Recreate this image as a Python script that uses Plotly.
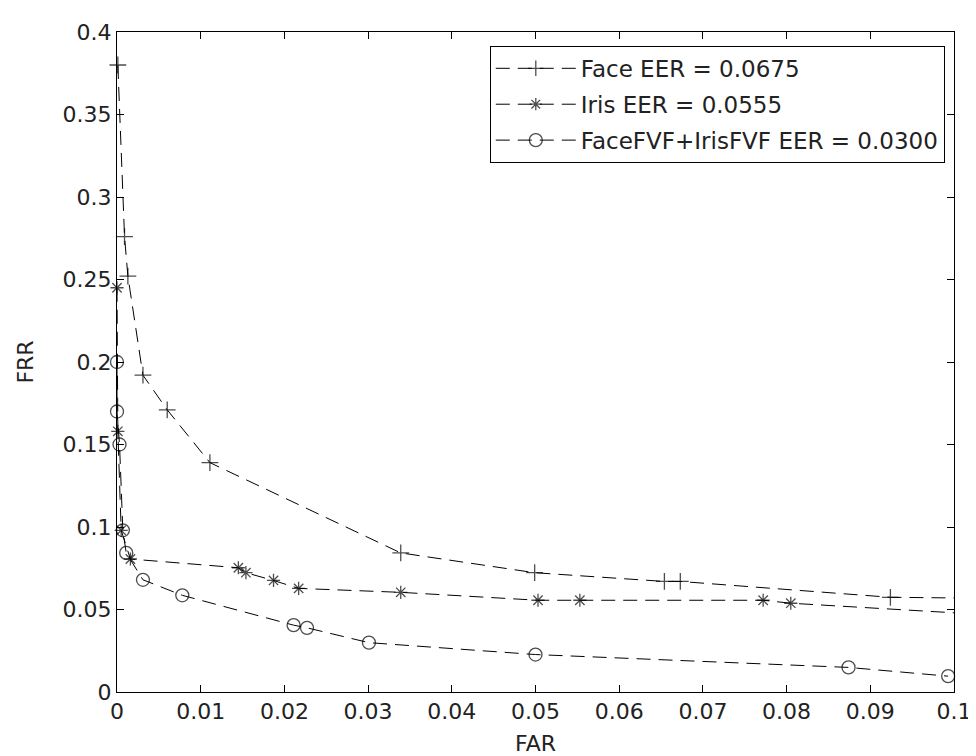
import plotly.graph_objects as go

# Face
face_far = [0.0001, 0.0009, 0.0013, 0.0031, 0.0060, 0.0111, 0.0339, 0.0499, 0.0654, 0.0673, 0.0924, 0.1000]
face_frr = [0.380, 0.276, 0.252, 0.192, 0.171, 0.139, 0.0843, 0.0723, 0.0670, 0.0670, 0.0574, 0.0570]
# Iris
iris_far = [0.0, 0.0001, 0.0005, 0.0016, 0.0145, 0.0154, 0.0187, 0.0217, 0.0339, 0.0503, 0.0553, 0.0772, 0.0805, 0.1000]
iris_frr = [0.245, 0.158, 0.098, 0.0806, 0.0753, 0.0723, 0.0676, 0.0628, 0.0604, 0.0556, 0.0556, 0.0556, 0.0538, 0.0480]
# Fused
fused_far = [0.0, 0.0, 0.0003, 0.0007, 0.0011, 0.0031, 0.0078, 0.0211, 0.0227, 0.0301, 0.0500, 0.0874, 0.0993]
fused_frr = [0.200, 0.170, 0.150, 0.098, 0.0843, 0.0680, 0.0586, 0.0405, 0.0389, 0.0299, 0.0227, 0.0149, 0.0096]

names = ["Face EER = 0.0675", "Iris EER = 0.0555", "FaceFVF+IrisFVF EER = 0.0300"]
x_ticks = [0, 0.01, 0.02, 0.03, 0.04, 0.05, 0.06, 0.07, 0.08, 0.09, 0.1]
x_tick_text = ["0", "0.01", "0.02", "0.03", "0.04", "0.05", "0.06", "0.07", "0.08", "0.09", "0.1"]
y_ticks = [0, 0.05, 0.1, 0.15, 0.2, 0.25, 0.3, 0.35, 0.4]
y_tick_text = ["0", "0.05", "0.1", "0.15", "0.2", "0.25", "0.3", "0.35", "0.4"]

FONT = "DejaVu Sans"
DASH = "14px,8px"
TXT = "#222"

fig = go.Figure()
series = [
    (face_far, face_frr, names[0], "cross-thin-open", 12, True),
    (iris_far, iris_frr, names[1], "asterisk-open", 11, True),
    (fused_far, fused_frr, names[2], "circle-open", 13, False),
]
for i, (xs, ys, nm, sym, sz, hide_last) in enumerate(series):
    sizes = [sz] * len(xs)
    if hide_last:
        sizes[-1] = 0
    fig.add_trace(go.Scatter(
        x=xs, y=ys, name=nm, mode="lines+markers",
        line=dict(color="black", width=1, dash=DASH),
        marker=dict(symbol=sym, size=sizes, color="black",
                    line=dict(color="black", width=1.3)),
        cliponaxis=False, legendgroup=str(i),
    ))

axis_common = dict(
    showgrid=False, zeroline=False, showline=True, linecolor="black", linewidth=1,
    mirror="ticks", ticks="inside", ticklen=7, tickcolor="black", tickwidth=1,
    tickfont=dict(family=FONT, size=22, color=TXT), ticklabeloverflow="allow",
)
fig.update_xaxes(range=[0, 0.1], tickvals=x_ticks, ticktext=x_tick_text,
                 title=dict(text="FAR", font=dict(family=FONT, size=22, color=TXT), standoff=12),
                 **axis_common)
fig.update_yaxes(range=[0, 0.4], tickvals=y_ticks, ticktext=y_tick_text,
                 title=dict(text="FRR", font=dict(family=FONT, size=22, color=TXT), standoff=22),
                 **axis_common)

fig.update_layout(
    width=976, height=756,
    margin=dict(l=109, r=17, t=19, b=68),
    paper_bgcolor="white", plot_bgcolor="white",
    font=dict(family=FONT, size=22, color=TXT),
    legend=dict(x=0.989, y=0.979, xanchor="right", yanchor="top",
                bgcolor="white", bordercolor="black", borderwidth=1,
                font=dict(family=FONT, size=23, color=TXT),
                traceorder="grouped", tracegroupgap=3, itemwidth=80),
    showlegend=True,
)

fig.write_html("out.html")
